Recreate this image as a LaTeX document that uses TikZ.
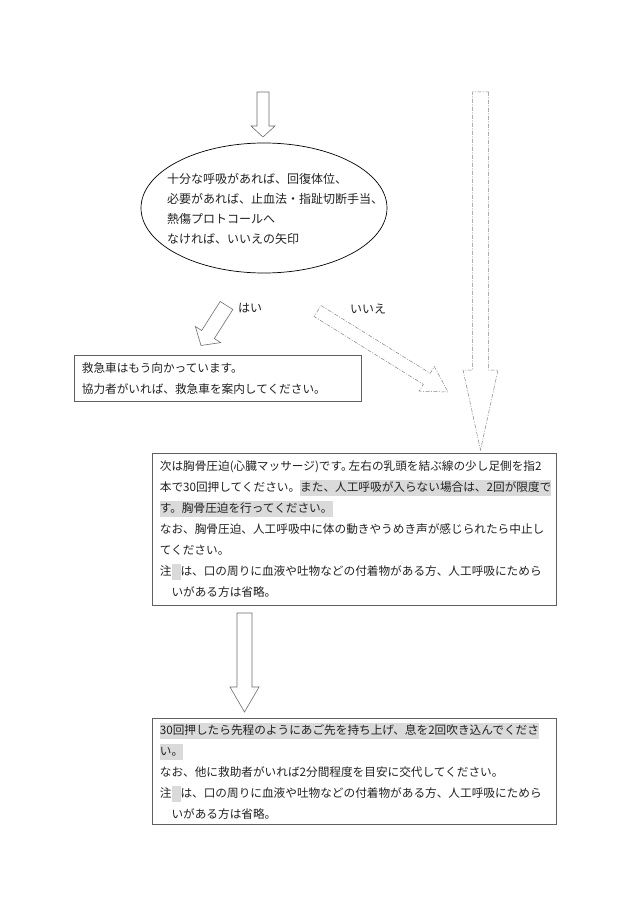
\documentclass[tikz,border=0pt]{standalone}
\usepackage{fontspec}
\setmainfont{Noto Sans CJK JP}
\usetikzlibrary{shapes.geometric,calc}

\definecolor{marco}{RGB}{96,96,96}
\definecolor{flecha}{RGB}{110,110,110}
\definecolor{resalte}{RGB}{218,218,218}
\definecolor{tinta}{RGB}{34,34,34}

% fondo gris detras de un tramo de texto
\newcommand{\resaltar}[1]{{\setlength{\fboxsep}{0pt}\colorbox{resalte}{\rule[-4pt]{0pt}{15.5pt}#1}}}
% flecha gruesa: [estilo]{cola}{punta}{ancho cuerpo}{ancho cabeza}{largo cabeza}
\newcommand{\flechon}[6][]{%
  \draw[#1] let \p1=(#2), \p2=(#3), \n1={atan2(\y2-\y1,\x2-\x1)}, \n2={veclen(\x2-\x1,\y2-\y1)} in
    [shift={(\p1)}, rotate=\n1]
    (0,-#4/2) -- (\n2-#6,-#4/2) -- (\n2-#6,-#5/2) -- (\n2,0)
    -- (\n2-#6,#5/2) -- (\n2-#6,#4/2) -- (0,#4/2) -- cycle;}

\begin{document}
\begin{tikzpicture}[x=1pt, y=-1pt, text=tinta,
  font=\fontsize{12}{21}\selectfont,
  caja/.style={draw=marco, line width=0.7pt, anchor=north west, align=left,
    inner xsep=7.5pt, inner ysep=0pt, font=\fontsize{11.65}{21}\selectfont},
  gruesa/.style={draw=flecha, line width=0.6pt},
  discontinua/.style={draw=flecha!85, line width=0.5pt,
    dash pattern=on 4pt off 1.5pt on 1pt off 1.5pt}]
  \fill[white] (0,0) rectangle (630,915);
  \useasboundingbox (0,0) rectangle (630,915);

  % elipse de decision
  \node[ellipse, draw, line width=0.7pt, minimum width=246, minimum height=130,
    inner sep=0pt] (juicio) at (264,208) {};
  \node[anchor=north west, align=left, inner sep=0pt,
    font=\fontsize{12}{20}\selectfont] (juiciotexto) at (167,173.5)
    {十分な呼吸があれば、回復体位、\\
     必要があれば、止血法・指趾切断手当、\\
     熱傷プロトコールへ\\
     なければ、いいえの矢印};

  % cajas de texto
  \node[caja, text width=272, minimum height=46] (ambulancia) at (74,355)
    {救急車はもう向かっています。\\
     協力者がいれば、救急車を案内してください。};
  \node[caja, text width=389, minimum height=152] (compresion) at (152,453)
    {次は胸骨圧迫(心臓マッサージ)です。\kern-4pt 左右の乳頭を結ぶ線の少し足側を指2\\
     本で30回押してください。\resaltar{また、人工呼吸が入らない場合は、2回が限度で}\\
     \resaltar{す。胸骨圧迫を行ってください。}\\
     なお、胸骨圧迫、人工呼吸中に体の動きやうめき声が感じられたら中止し\\
     てください。\\
     注\resaltar{\hspace{9pt}}は、口の周りに血液や吐物などの付着物がある方、人工呼吸にためら\\
     \hspace*{1em}いがある方は省略。};
  \node[caja, text width=389, minimum height=106] (ventilacion) at (152,718)
    {\resaltar{30回押したら先程のようにあご先を持ち上げ、息を2回吹き込んでくださ}\\
     \resaltar{い。}\\
     なお、他に救助者がいれば2分間程度を目安に交代してください。\\
     注\resaltar{\hspace{9pt}}は、口の周りに血液や吐物などの付着物がある方、人工呼吸にためら\\
     \hspace*{1em}いがある方は省略。};

  % extremos de las flechas gruesas
  \coordinate (entrada) at (263,92);
  \coordinate (entradap) at (263,137);
  \coordinate (sicola) at (226.5,305.5);
  \coordinate (sipunta) at (201,345.5);
  \coordinate (nocola) at (317.5,311);
  \coordinate (nopunta) at (448,392);
  \coordinate (atajo) at (480.5,92);
  \coordinate (atajop) at (480.5,450);
  \coordinate (siguiente) at (244.5,613);
  \coordinate (siguientep) at (244.5,712);

  \flechon[gruesa]{entrada}{entradap}{12}{24}{11}
  \flechon[gruesa]{sicola}{sipunta}{15}{30}{13}
  \flechon[discontinua]{nocola}{nopunta}{13}{29}{25}
  \flechon[discontinua]{atajo}{atajop}{16}{35}{80}
  \flechon[gruesa]{siguiente}{siguientep}{15}{29}{25}

  % rotulos de las ramas
  \node (si) at (250,308) {はい};
  \node (no) at (368,309) {いいえ};
\end{tikzpicture}
\end{document}
